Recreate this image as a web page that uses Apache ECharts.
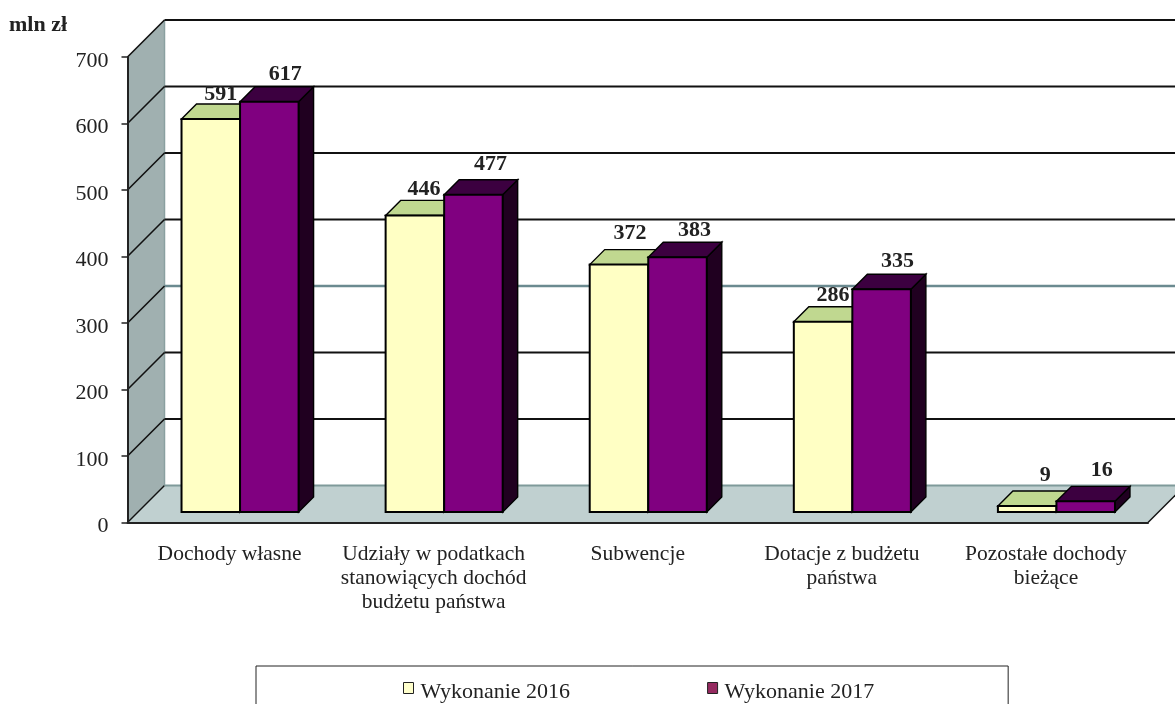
<!DOCTYPE html>
<html>
<head>
<meta charset="utf-8">
<title>Dochody</title>
<script src="https://cdn.jsdelivr.net/npm/echarts@6/dist/echarts.min.js"></script>
<style>
html,body{margin:0;padding:0;background:#fff;overflow:hidden}
#main{width:1175px;height:704px}
</style>
</head>
<body>
<div id="main"></div>
<script>
const categories = ['Dochody własne', 'Udziały w podatkach\nstanowiących dochód\nbudżetu państwa', 'Subwencje', 'Dotacje z budżetu\npaństwa', 'Pozostałe dochody\nbieżące'];
const values2016 = [591, 446, 372, 286, 9];
const values2017 = [617, 477, 383, 335, 16];
const yTicks = [0, 100, 200, 300, 400, 500, 600, 700];

// przesuniecia etykiet wzgledem srodka gornej krawedzi slupka
const labelShift2016 = [[10, -25], [9, -26], [11, -31], [10, -26], [18, -31]];
const labelShift2017 = [[16, -27], [17, -30], [17, -27], [16, -28], [16, -31]];

const FONT = '"Liberation Serif", "Times New Roman", serif';
const DEPTH = 37;       // glebokosc scian wykresu
const BAR_DEPTH = 15;   // glebokosc slupka
const BAR_SHIFT = 10.5; // odsuniecie slupkow od przedniej krawedzi
const BAR_RATIO = 58.5 / 204;

function poly(points, fill, stroke, lineWidth) {
    return {
        type: 'polygon',
        shape: {points: points},
        style: {fill: fill, stroke: stroke, lineWidth: lineWidth}
    };
}

// sciany i podloga
function renderWalls(params, api) {
    const c = params.coordSys;
    const l = c.x, r = c.x + c.width, t = c.y, b = c.y + c.height;
    return {
        type: 'group',
        children: [
            poly([[l, b], [l + DEPTH, b - DEPTH], [l + DEPTH, t - DEPTH], [l, t]], '#a0b0b0', null, 0),
            poly([[l, b], [l + DEPTH, b - DEPTH], [r + DEPTH, b - DEPTH], [r, b]], '#c0d0d0', null, 0),
            {type: 'line', shape: {x1: l + DEPTH, y1: b - DEPTH, x2: l + DEPTH, y2: t - DEPTH}, style: {stroke: '#8aa0a0', lineWidth: 1.5}},
            {type: 'line', shape: {x1: l, y1: b, x2: l + DEPTH, y2: b - DEPTH}, style: {stroke: '#111', lineWidth: 1.5}},
            {type: 'line', shape: {x1: r, y1: b, x2: r + DEPTH, y2: b - DEPTH}, style: {stroke: '#111', lineWidth: 1.5}}
        ]
    };
}

// linie siatki na scianie bocznej i tylnej
function renderGrid(params, api) {
    const c = params.coordSys;
    const v = api.value(1);
    const p = api.coord([0, v]);
    const l = c.x, r = c.x + c.width;
    const color = v === 0 ? '#7f9a9a' : (v === 300 ? '#6b8a90' : '#111');
    const children = [
        {type: 'line', shape: {x1: l + DEPTH, y1: p[1] - DEPTH, x2: r + DEPTH, y2: p[1] - DEPTH}, style: {stroke: color, lineWidth: v === 300 ? 2.4 : 1.8}}
    ];
    if (v !== 0) {
        children.push({type: 'line', shape: {x1: l, y1: p[1], x2: l + DEPTH, y2: p[1] - DEPTH}, style: {stroke: '#111', lineWidth: 1.6}});
    }
    return {type: 'group', children: children};
}

function makeBarRenderer(slot, front, top, side, shifts) {
    return function (params, api) {
        const i = api.value(0);
        const v = api.value(1);
        const base = api.coord([i, 0]);
        const peak = api.coord([i, v]);
        const w = api.size([1, 0])[0] * BAR_RATIO;
        const x1 = base[0] + BAR_SHIFT + slot * w;
        const x2 = x1 + w;
        const y1 = base[1] - BAR_SHIFT;
        const y2 = peak[1] - BAR_SHIFT;
        const d = BAR_DEPTH;
        const s = shifts[i];
        return {
            type: 'group',
            children: [
                poly([[x2, y1], [x2 + d, y1 - d], [x2 + d, y2 - d], [x2, y2]], side, '#000', 1.4),
                poly([[x1, y2], [x1 + d, y2 - d], [x2 + d, y2 - d], [x2, y2]], top, '#000', 1.4),
                poly([[x1, y1], [x2, y1], [x2, y2], [x1, y2]], front, '#000', 2),
                {
                    type: 'text',
                    style: {
                        text: String(v),
                        x: (x1 + x2) / 2 + s[0],
                        y: y2 + s[1],
                        align: 'center',
                        verticalAlign: 'middle',
                        fill: '#222',
                        font: 'bold 22px ' + FONT
                    }
                }
            ]
        };
    };
}

function RenderChart() {
    const chart = echarts.init(document.getElementById('main'));
    const toPairs = function (arr) {
        return arr.map(function (v, i) { return [i, v]; });
    };
    const option = {
        animation: false,
        backgroundColor: '#fff',
        title: {
            text: 'mln zł',
            left: 9,
            top: 14,
            padding: 0,
            textStyle: {fontFamily: FONT, fontSize: 22, fontWeight: 'bold', color: '#222'}
        },
        legend: {
            data: [
                {name: 'Wykonanie 2016', itemStyle: {color: '#ffffcc', borderColor: '#222', borderWidth: 1}},
                {name: 'Wykonanie 2017', itemStyle: {color: '#952a60', borderColor: '#222', borderWidth: 1}}
            ],
            selectedMode: false,
            left: 256,
            top: 666,
            icon: 'rect',
            itemWidth: 10,
            itemHeight: 11,
            itemGap: 137,
            padding: [15, 134, 30, 147],
            borderColor: '#222',
            borderWidth: 1,
            formatter: '{a|{name}}',
            textStyle: {
                rich: {a: {fontFamily: FONT, fontSize: 22, color: '#222', padding: [8, 0, 0, 2]}}
            }
        },
        grid: {left: 127.5, right: 27, top: 57, bottom: 181.5},
        xAxis: {
            type: 'category',
            data: categories,
            z: 5,
            axisLine: {lineStyle: {color: '#222', width: 2}},
            axisTick: {length: 6, lineStyle: {color: '#222', width: 1.5}},
            axisLabel: {interval: 0, margin: 20, color: '#222', fontFamily: FONT, fontSize: 21.5, lineHeight: 24}
        },
        yAxis: {
            type: 'value',
            min: 0,
            max: 700,
            interval: 100,
            z: 5,
            splitLine: {show: false},
            axisLine: {show: true, lineStyle: {color: '#222', width: 2}},
            axisTick: {show: true, length: 6, lineStyle: {color: '#222', width: 1.5}},
            axisLabel: {margin: 19, color: '#222', fontFamily: FONT, fontSize: 22, verticalAlign: 'top', lineHeight: 8}
        },
        series: [
            {type: 'custom', silent: true, z: 1, data: [[0, 0]], renderItem: renderWalls},
            {type: 'custom', silent: true, z: 2, data: toPairs(yTicks).map(function (p) { return [0, p[1]]; }), renderItem: renderGrid},
            {name: 'Wykonanie 2016', type: 'custom', z: 3, data: toPairs(values2016), itemStyle: {color: '#ffffcc'},
                renderItem: makeBarRenderer(-1, '#ffffc4', '#c0d890', '#5a5a30', labelShift2016)},
            {name: 'Wykonanie 2017', type: 'custom', z: 4, data: toPairs(values2017), itemStyle: {color: '#800080'},
                renderItem: makeBarRenderer(0, '#800080', '#3c0040', '#200020', labelShift2017)}
        ]
    };
    chart.setOption(option);
}

RenderChart();
</script>
</body>
</html>
